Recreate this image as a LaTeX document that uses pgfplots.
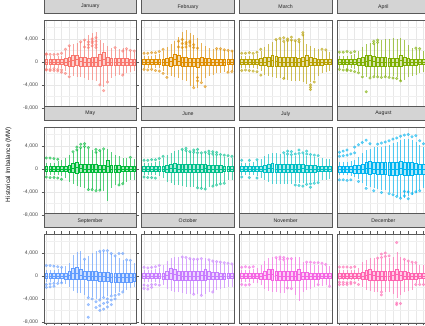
\documentclass[border=0pt]{standalone}
\usepackage{pgfplots}
\pgfplotsset{compat=1.18}
\usepgfplotslibrary{statistics}
\usepackage{fontspec}
\setmainfont{Liberation Sans}
\definecolor{cJan}{HTML}{F8766D}
\definecolor{cFeb}{HTML}{DE8C00}
\definecolor{cMar}{HTML}{B79F00}
\definecolor{cApr}{HTML}{7CAE00}
\definecolor{cMay}{HTML}{00BA38}
\definecolor{cJun}{HTML}{00C08B}
\definecolor{cJul}{HTML}{00BFC4}
\definecolor{cAug}{HTML}{00B4F0}
\definecolor{cSep}{HTML}{619CFF}
\definecolor{cOct}{HTML}{C77CFF}
\definecolor{cNov}{HTML}{F564E3}
\definecolor{cDec}{HTML}{FF64B0}
% values are given in MW and plotted in thousands of MW;
% \qk and \wk widen the box and the whiskers of a panel about its median
\def\qk{1.6}\def\wk{1.1}
\newcommand{\Bx}[6]{%
 \pgfmathsetmacro\bxc{#4/1000}%
 \pgfmathsetmacro\bxa{\bxc+\wk*(#2/1000-\bxc)}\pgfmathsetmacro\bxb{\bxc+\qk*(#3/1000-\bxc)}%
 \pgfmathsetmacro\bxd{\bxc+\qk*(#5/1000-\bxc)}\pgfmathsetmacro\bxe{\bxc+\wk*(#6/1000-\bxc)}%
 \edef\bxtmp{\noexpand\addplot[draw=mc, fill=mc!32, line width=0.35pt, boxplot/draw direction=y, boxplot prepared={draw position=#1, lower whisker=\bxa, lower quartile=\bxb, median=\bxc, upper quartile=\bxd, upper whisker=\bxe}] coordinates {};}%
 \bxtmp}
\newcommand{\Pts}[1]{\addplot[only marks, mark=*, mark size=1.35pt, color=mc, fill=mc, fill opacity=0.55, draw opacity=0.55, y filter/.expression={y/1000}] coordinates {#1};}
\pgfplotsset{
 panel/.style={
  scale only axis, width=92.5pt, height=89pt, anchor=south west,
  xmin=-0.6, xmax=23.6, ymin=-8.2, ymax=7.3,
  xtick={0,2,...,22}, ytick={-8,-4,0,4}, minor ytick={-6,-2,2,6},
  xmajorgrids, ymajorgrids, yminorgrids,
  major grid style={black!9, line width=0.45pt},
  minor grid style={black!6, line width=0.3pt},
  axis line style={black!65, line width=0.55pt},
  xticklabels={}, yticklabels={},
  tick align=outside, major tick length=2.5pt, minor tick length=0pt,
  xtick style={draw=none}, ytick style={draw=none},
  title style={at={(0.5,1)}, anchor=south, fill=black!17, draw=black!65, line width=0.55pt, minimum width=92.5pt, minimum height=14pt, inner sep=0pt, font=\fontsize{5.2}{6}\selectfont, text=black!85},
  boxplot/draw direction=y, boxplot/box extend=0.72, boxplot/whisker extend=0,
  boxplot/every whisker/.style={draw opacity=0.65, line width=0.4pt},
 },
 leftcol/.style={ytick style={draw=black!65, line width=0.45pt}, yticklabels={{-8,000},{-4,000},{0},{4,000}}, yticklabel style={font=\fontsize{5.2}{6}\selectfont, text=black!70}},
 botrow/.style={xtick style={draw=black!65, line width=0.45pt}},
}
\begin{document}
\begin{tikzpicture}
\useasboundingbox (0,0) rectangle (425pt,326pt);
\clip (0,0) rectangle (425pt,326pt);
\node[rotate=90, font=\fontsize{6.4}{7.5}\selectfont, text=black!90] at (8.5pt,161.5pt) {Historical Imbalance (MW)};
% ---------------- January
\colorlet{mc}{cJan}
\begin{axis}[panel, leftcol, at={(44pt,217pt)}, title=January]
\Bx{0}{-900}{-300}{0}{300}{900}\Bx{1}{-900}{-300}{0}{300}{900}\Bx{2}{-900}{-300}{0}{300}{900}
\Bx{3}{-1000}{-300}{0}{300}{1000}\Bx{4}{-1000}{-300}{0}{300}{1000}\Bx{5}{-1500}{-350}{0}{400}{1800}
\Bx{6}{-2000}{-400}{50}{500}{2500}\Bx{7}{-2200}{-300}{300}{800}{2800}\Bx{8}{-2300}{-200}{400}{900}{3000}
\Bx{9}{-2400}{-400}{100}{600}{3200}\Bx{10}{-2500}{-450}{0}{500}{3500}\Bx{11}{-2800}{-500}{0}{450}{4200}
\Bx{12}{-2800}{-500}{-50}{450}{4500}\Bx{13}{-3000}{-500}{0}{500}{4800}\Bx{14}{-3500}{-300}{300}{1000}{3500}
\Bx{15}{-4000}{-200}{500}{1300}{3000}\Bx{16}{-3000}{-400}{0}{500}{2500}\Bx{17}{-2500}{-400}{0}{400}{2200}
\Bx{18}{-2200}{-400}{0}{400}{2000}\Bx{19}{-2000}{-400}{-50}{400}{2000}\Bx{20}{-2000}{-400}{0}{400}{2200}
\Bx{21}{-1800}{-400}{0}{400}{2000}\Bx{22}{-1600}{-350}{0}{350}{1800}\Bx{23}{-1500}{-350}{0}{350}{1600}
\Pts{(0,1300)(0,1400)(0,-1300)(0,-1400)(1,1300)(1,-1300)(1,-1500)(2,1300)(2,-1200)(2,-1500)(3,1350)(3,-1300)(3,-1600)(4,1500)(4,-1400)(4,-1800)(5,2200)(5,-2000)(6,2800)(6,-2600)(9,3500)(10,2600)(10,3800)(11,2500)(11,3000)(11,3500)(12,2800)(12,3300)(12,3600)(12,4000)(13,2500)(13,3000)(13,3600)(13,4200)(14,-4000)(15,-5000)(16,-3500)(18,2500)(20,1900)(20,-2300)(21,2300)(22,2000)(23,1900)}
\end{axis}
% ---------------- February
\colorlet{mc}{cFeb}
\begin{axis}[panel, at={(141.7pt,217pt)}, title=February]
\Bx{0}{-900}{-300}{0}{300}{1000}\Bx{1}{-900}{-300}{0}{300}{1000}\Bx{2}{-900}{-300}{0}{300}{1000}
\Bx{3}{-1000}{-300}{0}{300}{1100}\Bx{4}{-1000}{-300}{0}{300}{1200}\Bx{5}{-1500}{-350}{0}{350}{1800}
\Bx{6}{-2000}{-400}{0}{450}{2300}\Bx{7}{-2200}{-400}{100}{600}{2800}\Bx{8}{-2400}{-200}{400}{1000}{3300}
\Bx{9}{-2600}{-300}{200}{800}{4000}\Bx{10}{-2800}{-450}{0}{500}{4800}\Bx{11}{-3000}{-500}{0}{500}{5000}
\Bx{12}{-3800}{-500}{0}{450}{4600}\Bx{13}{-4000}{-500}{-100}{400}{4300}\Bx{14}{-4200}{-600}{-100}{400}{3800}
\Bx{15}{-3000}{-400}{0}{500}{3000}\Bx{16}{-2600}{-400}{0}{400}{2500}\Bx{17}{-2200}{-350}{0}{400}{2200}
\Bx{18}{-2000}{-350}{0}{350}{2000}\Bx{19}{-1800}{-350}{0}{350}{2000}\Bx{20}{-1800}{-350}{0}{350}{2000}
\Bx{21}{-1600}{-350}{0}{350}{1900}\Bx{22}{-1500}{-300}{0}{300}{1800}\Bx{23}{-1400}{-300}{0}{300}{1700}
\Pts{(0,1500)(0,-1300)(1,1500)(1,-1400)(2,1600)(2,-1300)(3,1600)(3,-1500)(4,1800)(4,-1600)(5,2200)(5,-2000)(6,-2700)(9,2600)(9,3600)(10,2500)(10,3200)(10,3900)(11,2600)(11,3100)(11,3400)(12,2800)(12,3300)(12,3600)(13,2500)(13,3000)(13,-4500)(14,2400)(14,-2700)(14,-3300)(15,-3600)(16,-4300)(19,2300)(20,2300)(21,2100)(22,2000)(22,-1800)(23,1900)(23,-1700)}
\end{axis}
% ---------------- March
\colorlet{mc}{cMar}
\begin{axis}[panel, at={(239.4pt,217pt)}, title=March]
\Bx{0}{-900}{-300}{0}{300}{1000}\Bx{1}{-900}{-300}{0}{300}{1000}\Bx{2}{-900}{-300}{0}{300}{1000}
\Bx{3}{-1000}{-300}{0}{300}{1100}\Bx{4}{-1100}{-300}{0}{300}{1200}\Bx{5}{-1500}{-350}{0}{400}{1800}
\Bx{6}{-2000}{-400}{0}{500}{2400}\Bx{7}{-2200}{-400}{100}{600}{2800}\Bx{8}{-2400}{-300}{300}{900}{3200}
\Bx{9}{-2500}{-400}{100}{700}{3500}\Bx{10}{-2600}{-450}{0}{500}{3600}\Bx{11}{-2700}{-500}{0}{500}{3200}
\Bx{12}{-2800}{-500}{0}{500}{3300}\Bx{13}{-3000}{-500}{0}{500}{3500}\Bx{14}{-3000}{-500}{0}{500}{3300}
\Bx{15}{-3000}{-450}{0}{450}{3200}\Bx{16}{-3200}{-450}{100}{600}{4200}\Bx{17}{-3500}{-300}{300}{900}{2800}
\Bx{18}{-3200}{-400}{0}{500}{2500}\Bx{19}{-2800}{-400}{0}{400}{2200}\Bx{20}{-2200}{-350}{0}{350}{2000}
\Bx{21}{-1800}{-350}{0}{350}{1800}\Bx{22}{-1600}{-300}{0}{300}{1700}\Bx{23}{-1500}{-300}{0}{300}{1600}
\Pts{(0,1500)(0,-1500)(1,1500)(1,-1400)(2,1600)(2,-1500)(3,1500)(3,-1600)(4,1700)(4,-1700)(5,2200)(5,-2300)(9,3900)(10,4100)(11,3600)(11,4200)(11,-2900)(12,3700)(12,4000)(13,3800)(13,4300)(14,3700)(15,3500)(15,3900)(16,4700)(16,5100)(18,-4000)(18,-4400)(18,-4800)(19,-3500)(21,2200)(22,2100)}
\end{axis}
% ---------------- April
\colorlet{mc}{cApr}
\begin{axis}[panel, at={(337.1pt,217pt)}, title=April]
\Bx{0}{-900}{-300}{0}{300}{1000}\Bx{1}{-900}{-300}{0}{300}{1000}\Bx{2}{-900}{-300}{0}{300}{1000}
\Bx{3}{-1000}{-300}{0}{300}{1100}\Bx{4}{-1100}{-300}{0}{300}{1200}\Bx{5}{-1500}{-350}{0}{400}{1800}
\Bx{6}{-2000}{-400}{0}{500}{2400}\Bx{7}{-2300}{-350}{200}{800}{2800}\Bx{8}{-2400}{-300}{300}{900}{3000}
\Bx{9}{-2200}{-400}{100}{700}{2800}\Bx{10}{-2200}{-450}{0}{500}{3000}\Bx{11}{-2300}{-450}{0}{500}{3500}
\Bx{12}{-2300}{-450}{0}{500}{3600}\Bx{13}{-2300}{-450}{0}{450}{3700}\Bx{14}{-2300}{-450}{0}{450}{3800}
\Bx{15}{-2400}{-450}{0}{450}{3600}\Bx{16}{-3000}{-300}{300}{900}{3800}\Bx{17}{-2800}{-400}{0}{500}{3500}
\Bx{18}{-2400}{-350}{0}{400}{2600}\Bx{19}{-2200}{-350}{0}{350}{2200}\Bx{20}{-2000}{-350}{0}{350}{2000}
\Bx{21}{-1800}{-300}{0}{300}{1900}\Bx{22}{-1600}{-300}{0}{300}{1800}\Bx{23}{-1500}{-300}{0}{300}{1700}
\Pts{(0,1700)(0,-1300)(1,1700)(1,-1400)(2,1800)(2,-1300)(2,-1500)(3,1600)(3,-1500)(4,1800)(4,-1700)(5,-1900)(6,-2600)(7,-5200)(8,-2800)(9,3200)(9,3600)(9,-2600)(10,3400)(10,3800)(10,-2600)(11,-2700)(12,-2600)(13,-2700)(14,-2800)(15,-2900)(16,-3300)(20,2400)(21,2300)}
\end{axis}
% ---------------- May
\colorlet{mc}{cMay}
\begin{axis}[panel, leftcol, at={(44pt,110pt)}, title=May]
\Bx{0}{-900}{-250}{0}{250}{1000}\Bx{1}{-900}{-250}{0}{250}{1000}\Bx{2}{-900}{-250}{0}{250}{1000}
\Bx{3}{-1000}{-250}{0}{250}{1200}\Bx{4}{-1200}{-300}{0}{300}{1400}\Bx{5}{-1500}{-300}{0}{300}{1800}
\Bx{6}{-2000}{-350}{0}{400}{2200}\Bx{7}{-2400}{-300}{200}{700}{2600}\Bx{8}{-2600}{-300}{300}{800}{3000}
\Bx{9}{-2800}{-350}{100}{600}{3300}\Bx{10}{-3000}{-400}{0}{500}{3400}\Bx{11}{-3200}{-400}{0}{500}{3200}
\Bx{12}{-3200}{-400}{0}{500}{3000}\Bx{13}{-3300}{-400}{0}{500}{2600}\Bx{14}{-3300}{-400}{0}{450}{2800}
\Bx{15}{-3500}{-400}{0}{450}{3000}\Bx{16}{-5000}{-200}{400}{1100}{3200}\Bx{17}{-3000}{-400}{0}{450}{2600}
\Bx{18}{-2600}{-350}{0}{400}{2200}\Bx{19}{-2400}{-350}{0}{400}{2000}\Bx{20}{-2200}{-300}{0}{300}{1800}
\Bx{21}{-2000}{-300}{0}{300}{1700}\Bx{22}{-1800}{-300}{0}{300}{1600}\Bx{23}{-1700}{-300}{0}{300}{1600}
\Pts{(0,1900)(0,-1400)(1,1900)(1,-1500)(2,1800)(2,-1500)(3,1700)(3,-1600)(4,-1800)(7,3000)(8,3300)(8,3800)(9,3700)(9,4300)(10,3900)(10,4400)(11,3700)(11,-3600)(12,-3600)(13,2900)(13,3400)(13,-3800)(14,3200)(14,-3700)(15,3500)(19,-2800)(20,-2600)(22,2000)}
\end{axis}
% ---------------- June
\colorlet{mc}{cJun}
\begin{axis}[panel, at={(141.7pt,110pt)}, title=June]
\Bx{0}{-900}{-250}{0}{250}{1000}\Bx{1}{-900}{-250}{0}{250}{1000}\Bx{2}{-900}{-250}{0}{250}{1000}
\Bx{3}{-1000}{-250}{0}{250}{1100}\Bx{4}{-1100}{-300}{0}{300}{1300}\Bx{5}{-1500}{-300}{0}{300}{1700}
\Bx{6}{-2000}{-350}{0}{400}{2200}\Bx{7}{-2300}{-300}{100}{600}{2600}\Bx{8}{-2500}{-300}{200}{700}{2800}
\Bx{9}{-2600}{-350}{0}{500}{3000}\Bx{10}{-2700}{-400}{0}{500}{3000}\Bx{11}{-2800}{-400}{0}{500}{2800}
\Bx{12}{-2800}{-400}{0}{500}{2600}\Bx{13}{-2800}{-400}{0}{500}{2500}\Bx{14}{-2900}{-400}{0}{500}{2400}
\Bx{15}{-3000}{-400}{0}{500}{2400}\Bx{16}{-3000}{-350}{100}{600}{2500}\Bx{17}{-2800}{-400}{0}{450}{2300}
\Bx{18}{-2600}{-400}{0}{450}{2200}\Bx{19}{-2400}{-350}{0}{400}{2100}\Bx{20}{-2200}{-350}{0}{400}{2000}
\Bx{21}{-2000}{-300}{0}{300}{1900}\Bx{22}{-1800}{-300}{0}{300}{1800}\Bx{23}{-1700}{-300}{0}{300}{1700}
\Pts{(0,1500)(0,-1400)(1,1500)(1,-1500)(2,1600)(2,-1500)(3,1600)(3,-1600)(4,1800)(5,2200)(10,3400)(11,3200)(11,3600)(12,3000)(13,2900)(13,3300)(14,2800)(14,3400)(14,-3300)(15,2800)(15,-3400)(16,2900)(16,-3500)(17,2700)(17,3100)(18,2600)(18,3000)(18,-3000)(19,2500)(19,2900)(19,-2800)(20,2500)(20,-2600)(21,2400)(21,-2500)(22,2300)(23,2200)}
\end{axis}
% ---------------- July
\colorlet{mc}{cJul}
\begin{axis}[panel, at={(239.4pt,110pt)}, title=July]
\Bx{0}{-900}{-250}{0}{250}{1000}\Bx{1}{-900}{-250}{0}{250}{1000}\Bx{2}{-900}{-250}{0}{250}{1000}
\Bx{3}{-1000}{-250}{0}{250}{1100}\Bx{4}{-1100}{-300}{0}{300}{1200}\Bx{5}{-1400}{-300}{0}{300}{1600}
\Bx{6}{-1800}{-350}{0}{400}{2000}\Bx{7}{-2100}{-300}{100}{600}{2300}\Bx{8}{-2300}{-300}{200}{700}{2500}
\Bx{9}{-2400}{-350}{0}{500}{2500}\Bx{10}{-2400}{-400}{0}{500}{2400}\Bx{11}{-2400}{-400}{0}{500}{2300}
\Bx{12}{-2400}{-400}{0}{500}{2200}\Bx{13}{-2400}{-400}{0}{500}{2100}\Bx{14}{-2300}{-400}{0}{500}{2100}
\Bx{15}{-2300}{-400}{0}{500}{2200}\Bx{16}{-2300}{-350}{100}{600}{2300}\Bx{17}{-2200}{-400}{0}{450}{2100}
\Bx{18}{-2100}{-350}{0}{400}{2000}\Bx{19}{-2000}{-350}{0}{400}{1900}\Bx{20}{-1900}{-300}{0}{300}{1800}
\Bx{21}{-1800}{-300}{0}{300}{1700}\Bx{22}{-1700}{-300}{0}{300}{1600}\Bx{23}{-1600}{-300}{0}{300}{1500}
\Pts{(0,1500)(0,-1400)(2,1500)(2,-1500)(4,1600)(4,-1600)(11,2800)(12,2600)(12,3100)(13,2500)(13,3000)(14,2600)(14,-2800)(15,2700)(15,3300)(15,-2900)(16,2800)(16,-3000)(17,2600)(17,3100)(17,-2700)(18,2500)(18,-2600)(18,-3200)(19,2400)(19,-2500)(20,2300)(20,-2400)}
\end{axis}
% ---------------- August
\colorlet{mc}{cAug}
\def\qk{2.2}\def\wk{1.25}
\begin{axis}[panel, at={(337.1pt,110pt)}, title=August]
\Bx{0}{-900}{-250}{0}{250}{1000}\Bx{1}{-900}{-250}{0}{250}{1000}\Bx{2}{-900}{-250}{0}{250}{1000}
\Bx{3}{-1000}{-250}{0}{250}{1100}\Bx{4}{-1100}{-300}{0}{300}{1300}\Bx{5}{-1400}{-300}{0}{300}{1700}
\Bx{6}{-1900}{-350}{0}{400}{2200}\Bx{7}{-2300}{-300}{100}{600}{2600}\Bx{8}{-2500}{-300}{200}{700}{2800}
\Bx{9}{-2700}{-350}{0}{500}{3000}\Bx{10}{-2800}{-400}{0}{500}{3000}\Bx{11}{-2900}{-450}{0}{500}{3100}
\Bx{12}{-3000}{-450}{0}{500}{3200}\Bx{13}{-3200}{-500}{0}{500}{3400}\Bx{14}{-3400}{-500}{0}{500}{3600}
\Bx{15}{-3800}{-500}{0}{500}{3800}\Bx{16}{-4000}{-400}{100}{700}{4000}\Bx{17}{-4000}{-500}{0}{500}{4200}
\Bx{18}{-3800}{-500}{0}{500}{4200}\Bx{19}{-3600}{-500}{0}{500}{4000}\Bx{20}{-3400}{-450}{0}{450}{3800}
\Bx{21}{-3000}{-400}{0}{400}{3400}\Bx{22}{-2600}{-400}{0}{400}{3000}\Bx{23}{-2200}{-350}{0}{350}{2600}
\Pts{(0,2200)(0,2900)(0,-1900)(1,2300)(1,3100)(1,-1900)(2,2400)(2,3300)(2,-2000)(3,2600)(3,-1900)(4,3800)(4,2800)(5,4200)(5,-2200)(6,4600)(7,5000)(7,-3400)(8,4400)(9,-3800)(10,4300)(11,4500)(11,-4100)(12,4700)(13,4900)(13,-4300)(14,5200)(14,-4500)(15,5400)(15,-4800)(16,5700)(16,-5100)(17,5900)(17,-3900)(17,-4700)(18,6000)(18,-4000)(18,-5200)(19,5600)(19,-4300)(20,5800)(20,-4000)(21,4900)(21,-3800)(22,4400)(23,3800)}
\end{axis}
\def\qk{1.6}\def\wk{1.1}
% ---------------- September
\colorlet{mc}{cSep}
\begin{axis}[panel, leftcol, botrow, at={(44pt,3pt)}, title=September]
\Bx{0}{-900}{-300}{0}{300}{1000}\Bx{1}{-900}{-300}{0}{300}{1000}\Bx{2}{-900}{-300}{0}{300}{1000}
\Bx{3}{-1000}{-300}{0}{300}{1100}\Bx{4}{-1100}{-300}{0}{300}{1200}\Bx{5}{-1300}{-350}{0}{350}{1500}
\Bx{6}{-1800}{-350}{100}{500}{2000}\Bx{7}{-2400}{-200}{400}{1000}{3300}\Bx{8}{-2600}{-200}{500}{1100}{3800}
\Bx{9}{-2700}{-300}{200}{800}{3900}\Bx{10}{-3000}{-400}{0}{500}{2500}\Bx{11}{-3300}{-500}{0}{500}{3200}
\Bx{12}{-3300}{-500}{0}{500}{3600}\Bx{13}{-3600}{-500}{0}{500}{4000}\Bx{14}{-3600}{-600}{-100}{400}{3800}
\Bx{15}{-3400}{-600}{-100}{400}{4000}\Bx{16}{-3200}{-700}{-200}{300}{3700}\Bx{17}{-3000}{-800}{-300}{200}{3400}
\Bx{18}{-2800}{-800}{-300}{200}{3000}\Bx{19}{-2600}{-800}{-300}{200}{2800}\Bx{20}{-2400}{-800}{-300}{200}{2500}
\Bx{21}{-2200}{-800}{-300}{200}{2400}\Bx{22}{-2000}{-800}{-300}{200}{2200}\Bx{23}{-1800}{-700}{-300}{200}{2000}
\Pts{(0,1800)(0,-1500)(0,-2000)(1,1800)(1,-1400)(1,-1900)(2,1700)(2,-1300)(2,-1800)(3,1600)(3,-1300)(4,1500)(4,-1200)(10,2900)(11,-3800)(11,-5000)(11,-7200)(12,-4000)(13,-4500)(13,-5500)(14,4300)(14,-4200)(14,-5200)(14,-6000)(15,4400)(15,-3800)(15,-4800)(15,-5800)(16,4400)(16,-4000)(16,-4600)(16,-5400)(17,3900)(17,-3500)(17,-4200)(17,-5000)(18,3500)(18,-3400)(18,-4000)(19,3900)(19,-3200)(20,3900)(20,-2800)(21,2800)(22,2700)}
\end{axis}
% ---------------- October
\colorlet{mc}{cOct}
\begin{axis}[panel, botrow, at={(141.7pt,3pt)}, title=October]
\Bx{0}{-900}{-300}{0}{300}{1000}\Bx{1}{-900}{-300}{0}{300}{1000}\Bx{2}{-900}{-300}{0}{300}{1000}
\Bx{3}{-1000}{-300}{0}{300}{1100}\Bx{4}{-1100}{-300}{0}{300}{1300}\Bx{5}{-1500}{-350}{0}{350}{1800}
\Bx{6}{-2000}{-350}{100}{500}{2300}\Bx{7}{-2300}{-200}{400}{1000}{2800}\Bx{8}{-2500}{-300}{300}{800}{3000}
\Bx{9}{-2600}{-400}{100}{600}{3000}\Bx{10}{-2700}{-450}{0}{500}{2800}\Bx{11}{-2800}{-450}{0}{500}{2700}
\Bx{12}{-2800}{-450}{0}{500}{2600}\Bx{13}{-2800}{-450}{0}{500}{2500}\Bx{14}{-2900}{-450}{0}{500}{2500}
\Bx{15}{-3000}{-400}{100}{600}{2600}\Bx{16}{-2800}{-400}{200}{800}{2800}\Bx{17}{-2600}{-400}{0}{500}{2400}
\Bx{18}{-2400}{-400}{0}{400}{2200}\Bx{19}{-2200}{-400}{0}{400}{2100}\Bx{20}{-2000}{-350}{0}{350}{2000}
\Bx{21}{-1900}{-350}{0}{350}{1900}\Bx{22}{-1800}{-300}{0}{300}{1800}\Bx{23}{-1700}{-300}{0}{300}{1700}
\Pts{(0,1500)(0,-1600)(0,-2200)(1,1400)(1,-1700)(1,-2300)(2,1500)(2,-1500)(2,-2000)(3,1600)(3,-1500)(4,1800)(4,-1600)(10,3300)(11,3200)(12,3000)(13,2900)(13,-3200)(14,2900)(15,3000)(15,-3400)(17,2800)(18,2600)(18,-2800)(19,2500)(20,2400)(21,2300)(22,2200)(23,2100)}
\end{axis}
% ---------------- November
\colorlet{mc}{cNov}
\begin{axis}[panel, botrow, at={(239.4pt,3pt)}, title=November]
\Bx{0}{-1000}{-300}{0}{300}{1000}\Bx{1}{-1000}{-300}{0}{300}{1000}\Bx{2}{-1000}{-300}{0}{300}{1000}
\Bx{3}{-1100}{-300}{0}{300}{1100}\Bx{4}{-1200}{-300}{0}{300}{1300}\Bx{5}{-1500}{-350}{0}{350}{1800}
\Bx{6}{-2000}{-350}{100}{500}{2300}\Bx{7}{-2300}{-250}{300}{900}{2800}\Bx{8}{-2500}{-300}{300}{900}{3000}
\Bx{9}{-2600}{-400}{100}{600}{2800}\Bx{10}{-2700}{-450}{0}{500}{2400}\Bx{11}{-2700}{-450}{0}{500}{2400}
\Bx{12}{-1700}{-500}{0}{500}{2500}\Bx{13}{-1700}{-500}{0}{500}{2600}\Bx{14}{-3000}{-450}{0}{500}{3000}
\Bx{15}{-4000}{-300}{300}{900}{3000}\Bx{16}{-2500}{-400}{0}{450}{2200}\Bx{17}{-2200}{-400}{0}{400}{2000}
\Bx{18}{-2000}{-350}{0}{350}{1900}\Bx{19}{-1800}{-350}{0}{350}{1800}\Bx{20}{-1200}{-350}{0}{350}{1800}
\Bx{21}{-1600}{-300}{0}{300}{1700}\Bx{22}{-1500}{-300}{0}{300}{1600}\Bx{23}{-1400}{-300}{0}{300}{1500}
\Pts{(0,1500)(0,-1500)(1,1600)(1,-1600)(2,1500)(2,-1500)(3,1600)(9,3200)(10,2900)(10,3300)(11,2800)(11,3200)(12,3000)(12,-2100)(13,3000)(13,-2200)(17,2400)(18,2400)(19,2300)(20,2300)(20,-1500)(21,2200)(22,2000)(23,-1800)}
\end{axis}
% ---------------- December
\colorlet{mc}{cDec}
\begin{axis}[panel, botrow, at={(337.1pt,3pt)}, title=December]
\Bx{0}{-700}{-250}{0}{250}{1000}\Bx{1}{-700}{-250}{0}{250}{1000}\Bx{2}{-700}{-250}{0}{250}{1000}
\Bx{3}{-700}{-250}{0}{250}{1000}\Bx{4}{-700}{-250}{0}{250}{1000}\Bx{5}{-800}{-250}{0}{250}{1200}
\Bx{6}{-1800}{-350}{0}{400}{2200}\Bx{7}{-2200}{-300}{200}{700}{2600}\Bx{8}{-2400}{-300}{300}{800}{2800}
\Bx{9}{-2500}{-400}{100}{600}{2800}\Bx{10}{-2500}{-450}{0}{500}{2600}\Bx{11}{-2400}{-450}{0}{500}{2700}
\Bx{12}{-2500}{-450}{0}{500}{2800}\Bx{13}{-2600}{-450}{0}{500}{2900}\Bx{14}{-2800}{-400}{100}{600}{3000}
\Bx{15}{-3500}{-300}{300}{900}{3800}\Bx{16}{-3000}{-400}{100}{600}{3000}\Bx{17}{-2600}{-400}{0}{500}{2500}
\Bx{18}{-2400}{-400}{0}{400}{2200}\Bx{19}{-2200}{-350}{0}{350}{2000}\Bx{20}{-1200}{-350}{0}{350}{1900}
\Bx{21}{-1200}{-300}{0}{300}{1800}\Bx{22}{-1200}{-300}{0}{300}{1700}\Bx{23}{-1600}{-300}{0}{300}{1600}
\Pts{(0,1550)(0,-1100)(0,-1500)(1,1550)(1,-1100)(1,-1500)(2,1550)(2,-1200)(2,-1500)(3,1500)(3,-1100)(3,-1400)(4,1600)(4,-1200)(5,-1500)(10,3100)(11,3200)(11,3800)(11,-2800)(11,-3300)(12,3400)(12,4000)(13,3500)(15,5800)(15,-4700)(15,-5000)(16,-4800)(17,2900)(18,2600)(19,2400)(20,2300)(20,-1500)(21,-1500)(22,-1500)}
\end{axis}
\end{tikzpicture}
\end{document}
